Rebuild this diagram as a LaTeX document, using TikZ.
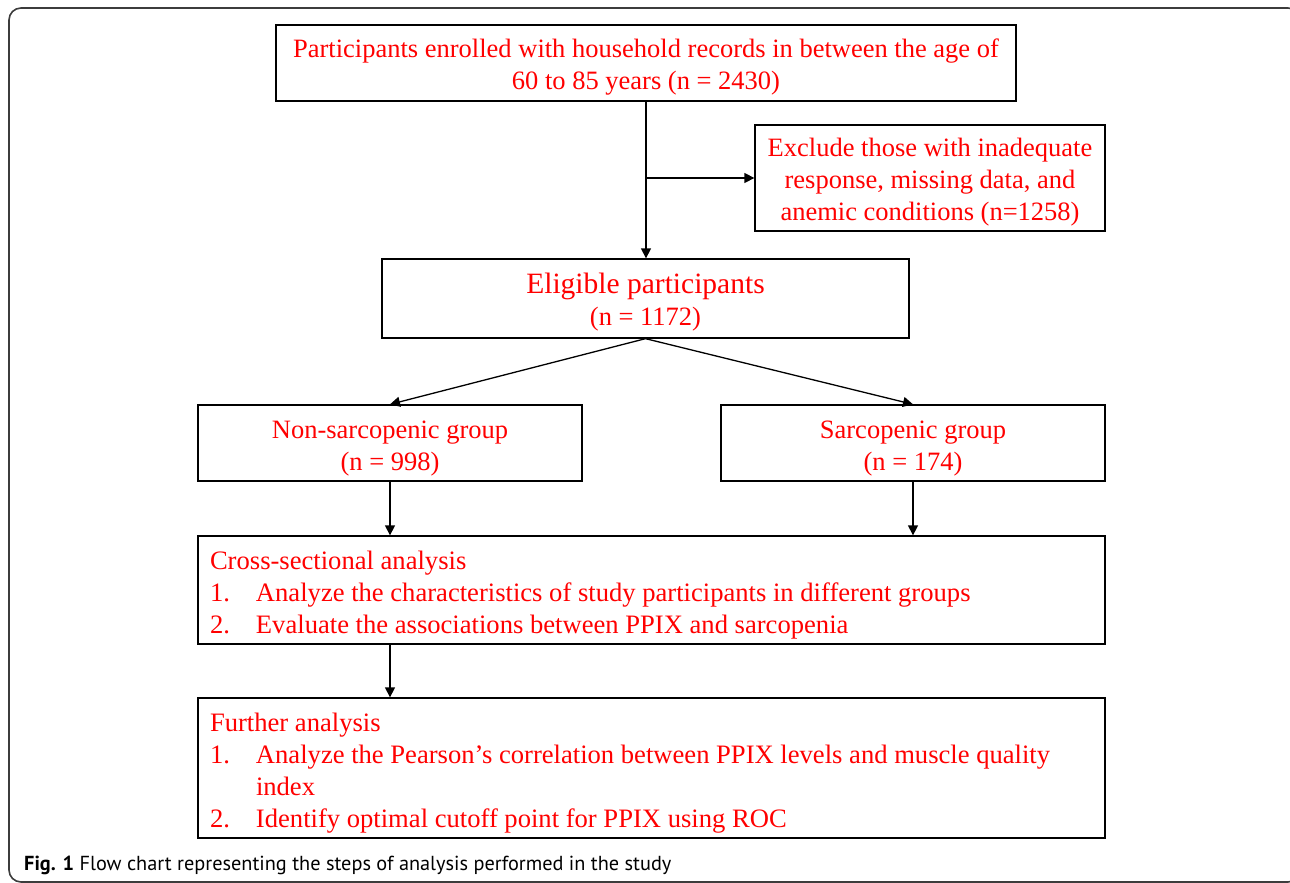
\documentclass[tikz,border=0pt]{standalone}
\usepackage{fontspec}
\usepackage{array}
\setmainfont{Liberation Serif}
\newfontfamily\capfont{PT Sans}
\usetikzlibrary{arrows.meta}
\definecolor{txtred}{RGB}{255,0,0}
\definecolor{framegray}{RGB}{60,60,60}
\newcommand{\lowc}[2][5pt]{\raisebox{-#1}[\height][\depth]{\begin{tabular}{@{}c@{}}#2\end{tabular}}}
\newcommand{\lowl}[2][5pt]{\raisebox{-#1}[\height][\depth]{\begin{tabular}{@{}p{883pt}@{}}#2\end{tabular}}}
\begin{document}
\begin{tikzpicture}[x=1pt,y=-1pt,
  stepbox/.style={draw=black, line width=1.3pt, inner sep=0pt, text=txtred,
    font=\fontsize{26.5}{32}\selectfont},
  listbox/.style={draw=black, line width=1.3pt, inner sep=0pt, text=txtred,
    font=\fontsize{26.6}{32}\selectfont, minimum width=907pt},
  arr/.style={line width=1.3pt, -{Triangle[length=10pt,width=10pt]}},
]
\useasboundingbox (0,0) rectangle (1290,883);
\draw[framegray, line width=1.6pt, rounded corners=12pt] (9,8) rectangle (1300,882);

\node[stepbox, minimum width=740pt, minimum height=76pt] (top) at (646,63)
  {\lowc[4pt]{Participants enrolled with household records in between the age of\\60 to 85 years (n = 2430)}};
\node[stepbox, minimum width=350pt, minimum height=106pt] (excl) at (930,178)
  {\lowc[4pt]{Exclude those with inadequate\\response, missing data, and\\anemic conditions (n=1258)}};
\node[stepbox, minimum width=527pt, minimum height=79pt] (elig) at (645.5,298.5)
  {\lowc{{\fontsize{29.5}{32}\selectfont Eligible participants}\\(n = 1172)}};
\node[stepbox, minimum width=384pt, minimum height=76pt] (non) at (390,443)
  {\lowc[5.5pt]{Non-sarcopenic group\\(n = 998)}};
\node[stepbox, minimum width=384pt, minimum height=76pt] (sarc) at (913,443)
  {\lowc[5.5pt]{Sarcopenic group\\(n = 174)}};
\node[listbox, minimum height=108pt] (cross) at (651.5,590)
  {\lowl{Cross-sectional analysis\\
   \makebox[46pt][l]{1.}Analyze the characteristics of study participants in different groups\\
   \makebox[46pt][l]{2.}Evaluate the associations between PPIX and sarcopenia}};
\node[listbox, minimum height=140pt] (further) at (651.5,768)
  {\lowl{Further analysis\\
   \makebox[46pt][l]{1.}Analyze the Pearson’s correlation between PPIX levels and muscle quality\\
   \hspace*{46pt}index\\
   \makebox[46pt][l]{2.}Identify optimal cutoff point for PPIX using ROC}};

\coordinate (br) at (top.south |- excl.west);
\draw[arr] (top.south) -- (top.south |- elig.north);
\draw[arr] (br) -- (excl.west);
\draw[arr] (elig.south) -- (non.north);
\draw[arr] (elig.south) -- (sarc.north);
\draw[arr] (non.south) -- (non.south |- cross.north);
\draw[arr] (sarc.south) -- (sarc.south |- cross.north);
\draw[arr] (non.south |- cross.south) -- (non.south |- further.north);

\node[anchor=west, inner sep=0pt, font=\capfont\fontsize{20.3}{24}\selectfont] (cap) at (24,865)
  {\textbf{Fig. 1} Flow chart representing the steps of analysis performed in the study};
\end{tikzpicture}
\end{document}
